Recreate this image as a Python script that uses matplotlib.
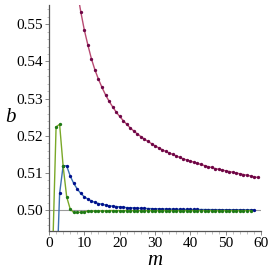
import matplotlib.pyplot as plt
from matplotlib.ticker import MultipleLocator

# red series, m = 8..59
m_red = list(range(8, 60))
b_red = [0.5588, 0.5533, 0.5484, 0.5444, 0.5407, 0.5377, 0.5352, 0.5330, 0.5310,
         0.5293, 0.5278, 0.5264, 0.5252, 0.5241, 0.5231, 0.5221, 0.5213, 0.5205,
         0.5198, 0.5191, 0.5185, 0.5179, 0.5173, 0.5168, 0.5163, 0.5158, 0.5154,
         0.5150, 0.5146, 0.5142, 0.5138, 0.5135, 0.5132, 0.5129, 0.5126, 0.5123,
         0.5120, 0.5117, 0.5115, 0.5112, 0.5110, 0.5108, 0.5106, 0.5104, 0.5102,
         0.5100, 0.5098, 0.5096, 0.5094, 0.5092, 0.5090, 0.5088]

# blue series, m = 2..58
m_blue = list(range(2, 59))
b_blue = [0.4780, 0.5045, 0.5120, 0.5119, 0.5092, 0.5072, 0.5057, 0.5045, 0.5036,
          0.5030, 0.5025, 0.5021, 0.5018, 0.5016, 0.5014, 0.5012, 0.5011, 0.5010,
          0.5009, 0.5008, 0.5007, 0.50068, 0.50062, 0.50057, 0.50053, 0.50049,
          0.50046, 0.50043, 0.50040, 0.50037, 0.50035, 0.50033, 0.50031, 0.50029,
          0.50027, 0.50026, 0.50024, 0.50023, 0.50022, 0.50021, 0.50020, 0.50019,
          0.50018, 0.50017, 0.50016, 0.50016, 0.50015, 0.50014, 0.50014, 0.50013,
          0.50013, 0.50012, 0.50012, 0.50011, 0.50011, 0.50011, 0.50010]

# green series, m = 1..57
m_green = list(range(1, 58))
b_green = [0.4875, 0.5224, 0.5231, 0.5118, 0.5036, 0.5003, 0.4994, 0.4994, 0.4995,
           0.4996, 0.4997, 0.4997, 0.4998, 0.4998, 0.4998, 0.4998, 0.4999, 0.4999,
           0.4999, 0.4999, 0.4999, 0.4999, 0.4999, 0.4999, 0.4999, 0.4999, 0.4999,
           0.4999, 0.4999, 0.4999, 0.4999, 0.4999, 0.4999, 0.4999, 0.4999, 0.4999,
           0.4999, 0.4999, 0.4999, 0.4999, 0.4999, 0.4999, 0.4999, 0.4999, 0.4999,
           0.4999, 0.4999, 0.4999, 0.4999, 0.4999, 0.4999, 0.4999, 0.4999, 0.4999,
           0.4999, 0.4999, 0.4999]

fig = plt.figure(figsize=(2.73, 2.73), dpi=100)
ax = fig.add_axes([0.1795, 0.155, 0.777, 0.827])

ax.axhline(0.5, color='#9a9a9a', lw=0.8, zorder=1)

ax.plot(m_blue, b_blue, color='#3a6fb0', lw=1.0, zorder=2)
ax.plot(m_blue, b_blue, 'o', color='#00108c', ms=2.4, mew=0, zorder=3)
ax.plot(m_green, b_green, color='#7aa828', lw=1.0, zorder=4)
ax.plot(m_green, b_green, 'o', color='#1f7a16', ms=2.4, mew=0, zorder=5)
ax.plot(m_red, b_red, color='#b84a72', lw=1.0, zorder=6)
ax.plot(m_red, b_red, 'o', color='#6e0646', ms=2.4, mew=0, zorder=7)

ax.set_xlim(0, 60)
ax.set_ylim(0.4945, 0.5552)

for s in ['top', 'right']:
    ax.spines[s].set_visible(False)
for s in ['left', 'bottom']:
    ax.spines[s].set_color('#555555')
    ax.spines[s].set_linewidth(0.9)

ax.xaxis.set_major_locator(MultipleLocator(10))
ax.xaxis.set_minor_locator(MultipleLocator(2))
ax.yaxis.set_major_locator(MultipleLocator(0.01))
ax.yaxis.set_minor_locator(MultipleLocator(0.002))
ax.yaxis.set_major_formatter(plt.FuncFormatter(lambda v, p: '%.2f' % v))

ax.tick_params(which='major', length=3, width=0.6, color='#777777', direction='out',
               labelsize=11, pad=1.5)
ax.tick_params(which='minor', length=1.8, width=0.5, color='#aaaaaa', direction='out')
for lab in ax.get_xticklabels() + ax.get_yticklabels():
    lab.set_fontfamily('Liberation Serif')

ax.set_xlabel('m', fontsize=15, fontstyle='italic', family='Liberation Serif', labelpad=1)
ax.set_ylabel('b', fontsize=15, fontstyle='italic', family='Liberation Serif', rotation=0,
              labelpad=4, va='center')

fig.savefig('out.png', dpi=100)
